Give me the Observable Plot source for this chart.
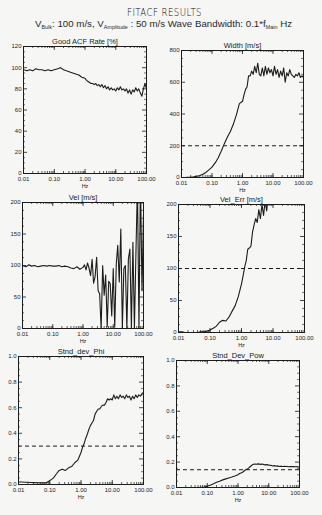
<!DOCTYPE html>
<html><head><meta charset="utf-8">
<script src="https://cdn.jsdelivr.net/npm/d3@7"></script>
<script src="https://cdn.jsdelivr.net/npm/@observablehq/plot@0.6"></script>
<style>
body{margin:0;background:#f6f6f4;}
#page{position:relative;width:322px;height:515px;overflow:hidden;font-family:"Liberation Sans",Arial,sans-serif;color:#222;background:#f6f6f4;}
.hd{position:absolute;white-space:nowrap;transform-origin:0 0;display:inline-block;line-height:1;}
#title{left:127px;top:7px;font-size:11px;color:#111;font-family:"DejaVu Sans",sans-serif;font-weight:200;letter-spacing:0.5px;}
#sub{left:35px;top:20px;font-size:9px;color:#2a2a2a;}
#sub sub{font-size:5px;vertical-align:-2px;}
.p{position:absolute;}
</style></head><body><div id="page">
<span class="hd" id="title">FITACF RESULTS</span>
<span class="hd" id="sub">V<sub>Bulk</sub>: 100 m/s, V<sub>Amplitude</sub> : 50 m/s Wave Bandwidth: 0.1*f<sub>Main</sub> Hz</span>
</div>
<script>
// ---- data ----
const hz = [0.01,0.013,0.016,0.02,0.025,0.032,0.04,0.05,0.063,0.079,
  0.10,0.13,0.16,0.20,0.25,0.32,0.40,0.50,0.63,0.79,
  1.0,1.12,1.26,1.41,1.58,1.78,2.0,2.24,2.51,2.82,3.16,3.55,3.98,4.47,5.01,5.62,6.31,7.08,7.94,8.91,
  10,11.2,12.6,14.1,15.8,17.8,20,22.4,25.1,28.2,31.6,35.5,39.8,44.7,50.1,56.2,63.1,70.8,79.4,89.1,100];
const xTickValues = [0.01,0.1,1,10,100];
const xTickLabels = ["0.01","0.10","1.00","10.00","100.00"];

const goodAcf = [98,97,98,97,99,98,98,97,98,97,
  98,99,100,98,97,96,95,94,93,91,
  90,88,87,86,85,85,84,85,83,84,82,84,81,83,80,82,79,81,79,80,
  78,81,79,82,79,80,78,80,76,79,75,79,77,81,78,80,76,73,80,85,80];
const width = [0,0,1,2,4,8,12,20,32,48,
  65,95,125,165,210,255,290,335,395,465,
  480,520,555,570,640,640,670,650,700,660,720,650,640,690,640,700,650,690,660,680,
  640,700,650,680,630,670,640,690,600,660,640,680,650,640,630,650,640,660,630,640,630];
const vel = [100,98,101,99,100,98,99,100,99,100,
  99,99,100,98,99,98,96,95,98,94,
  97,101,93,104,96,84,110,72,82,113,60,55,0,100,53,85,3,75,71,20,
  95,2,103,132,74,158,0,95,100,0,110,126,0,137,0,120,230,0,240,60,180];
const velErr = [1,1,0,0,0,0,0,1,1,2,
  4,7,10,16,19,18,24,33,42,56,
  76,88,102,112,130,132,135,157,168,178,172,192,178,200,183,205,190,215,220,230,
  235,240,240,245,250,250,255,255,260,260,260,265,265,270,270,270,275,275,280,280,280];
const sdPhi = [0.02,0.02,0.018,0.017,0.016,0.015,0.014,0.013,0.013,0.015,
  0.03,0.05,0.08,0.11,0.12,0.11,0.13,0.14,0.17,0.19,
  0.25,0.29,0.32,0.36,0.39,0.43,0.46,0.48,0.50,0.55,0.57,0.59,0.59,0.61,0.62,0.62,0.64,0.67,0.66,0.67,
  0.66,0.70,0.67,0.69,0.67,0.70,0.68,0.69,0.67,0.70,0.68,0.69,0.66,0.69,0.67,0.70,0.68,0.70,0.69,0.71,0.72];
const sdPow = [0,0,0,0,0,0,0,0,0.001,0.002,
  0.01,0.02,0.03,0.042,0.05,0.06,0.068,0.075,0.082,0.09,
  0.10,0.11,0.115,0.12,0.13,0.14,0.145,0.155,0.165,0.175,0.183,0.185,0.183,0.186,0.184,0.182,0.185,0.18,0.178,0.18,
  0.176,0.175,0.172,0.17,0.172,0.168,0.17,0.166,0.168,0.165,0.167,0.165,0.166,0.164,0.166,0.164,0.165,0.163,0.165,0.162,0.163];

const titles = ["Good ACF Rate [%]","Width [m/s]","Vel [m/s]","Vel_Err [m/s]","Stnd_dev_Phi","Stnd_Dev_Pow"];
const yTicks = [[0,20,40,60,80,100,120],[0,200,400,600,800],[0,50,100,150,200],[0,50,100,150,200],[0,0.2,0.4,0.6,0.8,1.0],[0,0.2,0.4,0.6,0.8,1.0]];
const thresholds = [null,200,null,100,0.3,0.14];
const series = [goodAcf,width,vel,velErr,sdPhi,sdPow];

// ---- layout (frame boxes) ----
const frames = [
  {l:23,r:146,t:46,b:173},{l:181,r:303,t:50,b:177},
  {l:22,r:143,t:202,b:328},{l:178,r:304,t:204,b:332},
  {l:18,r:143,t:356,b:484},{l:176,r:299,t:360,b:487}
];
const ink = "#1c1c1c";
const page = document.getElementById("page");
const xMinor = d3.scaleLog().domain([0.01,100]).ticks();

frames.forEach((fr,i)=>{
  const mL=24,mR=6,mT=14,mB=22;
  const W = fr.r-fr.l, H = fr.b-fr.t;
  const yt = yTicks[i];
  const step = yt[1]-yt[0];
  const yMinor = [];
  for (let k=0;k<yt.length-1;k++) for (let j=1;j<4;j++) yMinor.push(yt[k]+step*j/4);
  const data = hz.map((f,k)=>({f, v: series[i][k]}));
  const fmt = step < 1 ? (d=>d.toFixed(1)) : (d=>String(d));
  const marks = [
    Plot.frame({stroke: ink, strokeWidth: 1}),
    Plot.ruleX(xTickValues,{x:d=>d,insetTop:H-4,stroke:ink,strokeWidth:0.8}),
    Plot.ruleX(xTickValues,{x:d=>d,insetBottom:H-4,stroke:ink,strokeWidth:0.8}),
    Plot.ruleX(xMinor,{x:d=>d,insetTop:H-2,stroke:ink,strokeWidth:0.7}),
    Plot.ruleX(xMinor,{x:d=>d,insetBottom:H-2,stroke:ink,strokeWidth:0.7}),
    Plot.ruleY(yt,{y:d=>d,insetRight:W-4,stroke:ink,strokeWidth:0.8}),
    Plot.ruleY(yt,{y:d=>d,insetLeft:W-4,stroke:ink,strokeWidth:0.8}),
    Plot.ruleY(yMinor,{y:d=>d,insetRight:W-2,stroke:ink,strokeWidth:0.6}),
    Plot.ruleY(yMinor,{y:d=>d,insetLeft:W-2,stroke:ink,strokeWidth:0.6}),
  ];
  if (thresholds[i]!==null) marks.push(Plot.ruleY([thresholds[i]],{y:d=>d,stroke:ink,strokeWidth:1,strokeDasharray:"4,3"}));
  marks.push(
    Plot.line(data,{x:"f",y:"v",stroke:ink,strokeWidth:1.1,clip:true}),
    Plot.axisX({ticks:xTickValues,tickSize:0,tickPadding:3,tickFormat:(d)=>xTickLabels[xTickValues.indexOf(d)],fontSize:6,label:null}),
    Plot.axisY({ticks:yt,tickSize:0,tickPadding:2,tickFormat:fmt,fontSize:6,label:null}),
    Plot.text([titles[i]],{text:d=>d,frameAnchor:"top",dy:-3,lineAnchor:"bottom",fontSize:7.5,fill:ink}),
    Plot.text(["Hz"],{text:d=>d,frameAnchor:"bottom",dy:11,lineAnchor:"top",fontSize:5.5,fill:ink})
  );
  const chart = Plot.plot({
    width: W+mL+mR, height: H+mT+mB,
    marginLeft:mL, marginRight:mR, marginTop:mT, marginBottom:mB,
    style:{background:"transparent",color:ink,fontFamily:"'Liberation Sans', Arial, sans-serif",overflow:"visible"},
    x:{type:"log",domain:[0.01,100],label:null},
    y:{domain:[yt[0],yt[yt.length-1]],label:null},
    marks
  });
  const wrap = document.createElement("div");
  wrap.className="p";
  wrap.style.left=(fr.l-mL)+"px";
  wrap.style.top=(fr.t-mT)+"px";
  wrap.appendChild(chart);
  page.appendChild(wrap);
});

function fit(id,w){const el=document.getElementById(id);const r=el.getBoundingClientRect().width;el.style.transform=`scaleX(${w/r})`;}
fit("title",75); fit("sub",257);
</script>
</body></html>
